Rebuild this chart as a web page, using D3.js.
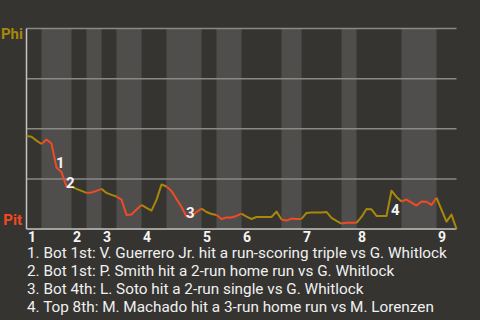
<!DOCTYPE html>
<html>
<head>
<meta charset="utf-8">
<script src="https://cdn.jsdelivr.net/npm/d3@7"></script>
<style>
  body { margin: 0; background: #353430; }
  svg { display: block; font-family: Roboto, sans-serif; }
  .grid { stroke: #8a8986; stroke-width: 1.5; }
  .axis { stroke: #c4c3c0; stroke-width: 1.5; }
  .inning { fill: #f4f4f4; font-size: 14px; font-weight: bold; }
  .event { fill: #f4f4f4; font-size: 15px; font-weight: bold; }
  .note { fill: #f0f0f0; font-size: 15.3px; }
</style>
</head>
<body>
<svg width="480" height="320"></svg>
<script>
// Phi win probability (%) after each plate appearance
const winProb = [
  46.4, 46.0, 44.1, 42.4, 44.6, 42.6, 30.7, 28.4, 21.1, 21.1,
  20.0, 19.0, 18.0, 18.2, 19.0, 20.0, 18.0, 17.0, 16.2, 14.7,
  7.0, 7.2, 9.7, 12.0, 10.5, 9.2, 14.5, 22.2, 21.2, 19.0,
  15.0, 11.0, 6.2, 6.5, 8.5, 10.2, 8.5, 7.5, 7.0, 5.0,
  5.7, 5.7, 6.5, 7.7, 6.2, 5.0, 6.0, 6.0, 6.0, 6.0,
  8.7, 4.7, 4.2, 5.2, 5.0, 5.0, 8.0, 8.2, 8.2, 8.2,
  8.5, 5.5, 4.0, 2.7, 3.1, 3.1, 3.1, 6.0, 10.0, 9.8,
  6.5, 6.5, 6.5, 19.1, 16.0, 13.7, 14.7, 13.2, 11.7, 13.7,
  13.6, 12.0, 15.6, 9.6, 3.7, 7.2, 0
];

// plate appearances in each half inning (top 1st, bot 1st, ...)
const halfInningPA = [3, 6, 3, 3, 3, 5, 5, 7, 3, 5, 8, 4, 8, 3, 9, 7, 4];

const innings = ["1", "2", "3", "4", "5", "6", "7", "8", "9"];
const teams = ["Phi", "Pit"];

// key plays: plate appearance index and caption
const eventIndex = [6, 8, 32, 73];
const eventText = [
  "1. Bot 1st: V. Guerrero Jr. hit a run-scoring triple vs G. Whitlock",
  "2. Bot 1st: P. Smith hit a 2-run home run vs G. Whitlock",
  "3. Bot 4th: L. Soto hit a 2-run single vs G. Whitlock",
  "4. Top 8th: M. Machado hit a 3-run home run vs M. Lorenzen"
];

const gold = "#a8880a";
const red = "#f24a22";

const svg = d3.select("svg");

const x = d3.scaleLinear()
  .domain([0, winProb.length - 1])
  .range([26.5, 456.5]);

const y = d3.scaleLinear()
  .domain([0, 100])
  .range([229, 28.5]);

// half inning boundaries
const starts = [0];
halfInningPA.forEach(n => starts.push(starts[starts.length - 1] + n));
const halves = halfInningPA.map((n, i) => ({ start: starts[i], end: starts[i + 1], top: i % 2 === 0 }));

svg.selectAll("rect.band")
  .data(halves.filter(d => !d.top))
  .enter()
  .append("rect")
  .attr("class", "band")
  .attr("x", d => x(d.start))
  .attr("y", y(100))
  .attr("width", d => x(d.end) - x(d.start))
  .attr("height", y(0) - y(100))
  .attr("fill", "#4f4e4c");

svg.selectAll("line.grid")
  .data([25, 50, 75, 100])
  .enter()
  .append("line")
  .attr("class", "grid")
  .attr("x1", x(0))
  .attr("x2", x(winProb.length - 1))
  .attr("y1", d => y(d))
  .attr("y2", d => y(d));

svg.append("line")
  .attr("class", "axis")
  .attr("x1", x(0)).attr("x2", x(0))
  .attr("y1", y(100)).attr("y2", y(0));

svg.append("line")
  .attr("class", "axis")
  .attr("x1", x(0)).attr("x2", x(winProb.length - 1))
  .attr("y1", y(0)).attr("y2", y(0));

// win probability line, coloured by batting side
const line = d3.line()
  .x(d => x(d.i))
  .y(d => y(d.v));

svg.selectAll("path.wp")
  .data(halves)
  .enter()
  .append("path")
  .attr("class", "wp")
  .attr("fill", "none")
  .attr("stroke", d => d.top ? gold : red)
  .attr("stroke-width", 2)
  .attr("stroke-linejoin", "round")
  .attr("d", d => line(d3.range(d.start, d.end + 1).map(i => ({ i: i, v: winProb[i] }))));

// team labels
svg.append("text")
  .attr("x", 23).attr("y", 39)
  .attr("text-anchor", "end")
  .attr("font-size", 15).attr("font-weight", "bold")
  .attr("fill", gold)
  .text(teams[0]);

svg.append("text")
  .attr("x", 22).attr("y", 225)
  .attr("text-anchor", "end")
  .attr("font-size", 15).attr("font-weight", "bold")
  .attr("fill", red)
  .text(teams[1]);

// inning numbers
svg.selectAll("text.inning")
  .data(innings)
  .enter()
  .append("text")
  .attr("class", "inning")
  .attr("x", (d, i) => x(starts[i * 2]) + 1.5)
  .attr("y", 242)
  .text(d => d);

// key play markers
svg.selectAll("text.event")
  .data(eventIndex)
  .enter()
  .append("text")
  .attr("class", "event")
  .attr("x", d => x(d) - 0.5)
  .attr("y", d => winProb[d] < winProb[d - 1] ? y(winProb[d]) + 1 : y(winProb[d]) + 24)
  .text((d, i) => i + 1);

svg.selectAll("text.note")
  .data(eventText)
  .enter()
  .append("text")
  .attr("class", "note")
  .attr("x", 27)
  .attr("y", (d, i) => 257.5 + i * 18)
  .text(d => d);
</script>
</body>
</html>
